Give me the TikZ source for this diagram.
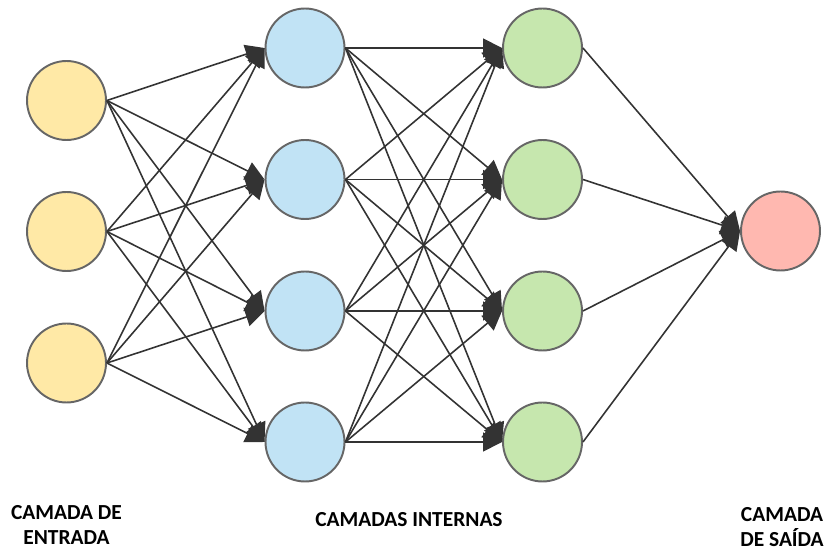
\documentclass[tikz,border=0pt]{standalone}
\usepackage{fontspec}
\setmainfont{Carlito}
\usetikzlibrary{arrows.meta}

\definecolor{inYellow}{HTML}{FFE9A6}
\definecolor{hidBlue}{HTML}{C1E3F5}
\definecolor{hidGreen}{HTML}{C6E7AE}
\definecolor{outRed}{HTML}{FFB8B0}
\definecolor{edgeGray}{HTML}{333333}

\tikzset{
    neuron/.style={circle, draw=black!60, line width=1.1pt, minimum size=1.58cm, inner sep=0pt},
    conn/.style={draw=edgeGray, line width=0.9pt, -{Triangle[length=0.38cm, width=0.38cm]}},
    caption/.style={font=\fontsize{12.2}{14.5}\selectfont\bfseries, align=center, inner sep=0pt}
}

\begin{document}
\begin{tikzpicture}[x=0.02cm, y=-0.02cm]
    \useasboundingbox (0,0) rectangle (825,553);
    % input layer
    \node[neuron, fill=inYellow] (in1) at (66.5,100.5) {};
    \node[neuron, fill=inYellow] (in2) at (66.5,231.5) {};
    \node[neuron, fill=inYellow] (in3) at (66.5,363) {};
    % hidden layers
    \foreach \i/\y in {1/48, 2/179.5, 3/311, 4/442} {
        \node[neuron, fill=hidBlue] (ha\i) at (305,\y) {};
        \node[neuron, fill=hidGreen] (hb\i) at (542.5,\y) {};
    }
    % output layer
    \node[neuron, fill=outRed] (out) at (780.5,231) {};

    \foreach \s in {1,2,3}
        \foreach \t in {1,2,3,4}
            \draw[conn] (in\s.east) -- (ha\t.west);
    \foreach \s in {1,2,3,4}
        \foreach \t in {1,2,3,4}
            \draw[conn] (ha\s.east) -- (hb\t.west);
    \foreach \s in {1,2,3,4}
        \draw[conn] (hb\s.east) -- (out.west);

    \node[caption] (capIn) at (66.5,525) {CAMADA DE\\ENTRADA};
    \node[caption] (capHid) at (409,520) {CAMADAS INTERNAS};
    \node[caption] (capOut) at (782,527) {CAMADA\\DE SAÍDA};
\end{tikzpicture}
\end{document}
